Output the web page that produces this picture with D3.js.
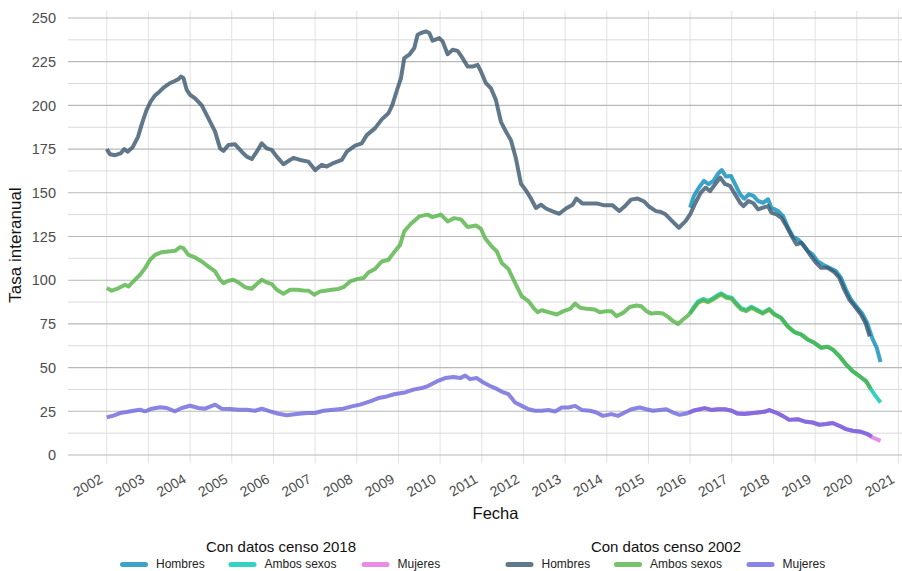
<!DOCTYPE html>
<html><head><meta charset="utf-8">
<script src="https://cdn.jsdelivr.net/npm/d3@7"></script>
<style>
body{margin:0;background:#fff}
svg{display:block;font-family:"Liberation Sans",Arial,Helvetica,sans-serif}
</style>
</head><body>
<svg id="chart" width="902" height="571"></svg>
<script>
// ---- tick labels ----
const yearTicks = [2002,2003,2004,2005,2006,2007,2008,2009,2010,2011,2012,2013,2014,2015,2016,2017,2018,2019,2020,2021];
const yTicks = [0,25,50,75,100,125,150,175,200,225,250];
const yMinorTicks = [12.5,37.5,62.5,87.5,112.5,137.5,162.5,187.5,212.5,237.5];

// ---- series values: [year, tasa] ----
const hombres2002 = [
[2002.00,175],[2002.08,172],[2002.20,171.5],[2002.33,172.5],[2002.42,175],[2002.50,173.5],[2002.62,176],
[2002.75,182],[2002.85,190],[2002.95,197],[2003.05,202],[2003.15,205.5],[2003.27,208],[2003.38,210.5],
[2003.50,212.5],[2003.62,213.8],[2003.72,215],[2003.78,216.5],[2003.84,215.7],[2003.92,208.8],[2004.00,206],
[2004.12,204],[2004.28,200],[2004.44,192.6],[2004.60,185],[2004.72,175.4],[2004.80,174],[2004.92,177.3],
[2005.08,177.7],[2005.24,173.5],[2005.36,170.7],[2005.48,169.3],[2005.60,173.5],[2005.72,178.3],[2005.84,175.4],
[2005.96,174.5],[2006.08,170.7],[2006.24,166.3],[2006.36,168.2],[2006.48,170],[2006.64,168.8],[2006.84,167.8],
[2007.00,163],[2007.16,166],[2007.28,165],[2007.44,167],[2007.64,168.8],[2007.76,173.5],[2007.96,177],
[2008.12,178.3],[2008.24,183],[2008.44,187],[2008.60,192],[2008.76,195.5],[2008.85,200],[2008.98,209.8],
[2009.06,215.5],[2009.14,227],[2009.26,229],[2009.38,232.8],[2009.46,240.4],[2009.54,241.4],[2009.66,242.3],
[2009.74,241.4],[2009.82,237],[2009.98,238.5],[2010.06,236.6],[2010.18,229.3],[2010.30,231.8],[2010.42,231.2],
[2010.54,227],[2010.66,222.2],[2010.78,222.2],[2010.90,223.2],[2010.98,219.4],[2011.10,212.7],[2011.22,209.8],
[2011.34,203],[2011.46,190.6],[2011.58,185],[2011.70,180],[2011.82,169.6],[2011.94,155.2],[2012.06,151.4],
[2012.18,146.7],[2012.30,141.3],[2012.42,143.2],[2012.54,141],[2012.70,139.4],[2012.86,138],[2013.02,141],
[2013.18,143.2],[2013.27,146.7],[2013.42,143.8],[2013.66,143.8],[2013.78,143.8],[2013.94,142.8],[2014.14,142.8],
[2014.30,139.6],[2014.42,142],[2014.58,146.1],[2014.74,146.7],[2014.90,145],[2015.02,142],[2015.18,139.5],
[2015.30,139],[2015.41,137.7],[2015.57,133.8],[2015.73,130],[2015.89,133.8],[2016.00,137.7],[2016.13,144.3],
[2016.25,150],[2016.37,152.9],[2016.48,151],[2016.60,154.9],[2016.72,158.7],[2016.84,154.9],[2016.96,153.9],
[2017.08,149.1],[2017.20,144.3],[2017.28,142.4],[2017.40,145.3],[2017.52,144],[2017.63,140.5],[2017.75,141.5],
[2017.87,142.4],[2017.95,138.6],[2018.07,137.7],[2018.19,135.7],[2018.31,131],[2018.43,125.6],[2018.55,120.5],
[2018.67,121.4],[2018.79,117.6],[2018.90,113.8],[2019.02,110],[2019.14,107.1],[2019.30,107.1],[2019.46,104.6],
[2019.58,101.4],[2019.70,94.6],[2019.82,88.9],[2019.98,84.1],[2020.10,80.3],[2020.21,75.5],[2020.31,67.9]
];
const ambos2002 = [
[2002.00,95.5],[2002.12,94],[2002.24,95],[2002.36,96.4],[2002.44,97.4],[2002.52,96.4],[2002.64,99.3],
[2002.80,103.1],[2002.92,106.9],[2003.04,111.7],[2003.16,114.5],[2003.32,116],[2003.48,116.4],[2003.64,116.8],
[2003.76,118.9],[2003.84,118.3],[2003.96,114.5],[2004.12,113],[2004.28,110.7],[2004.44,107.8],[2004.60,105],
[2004.72,100.2],[2004.80,98.3],[2004.92,99.7],[2005.04,100.2],[2005.16,98.7],[2005.32,96],[2005.48,95.1],
[2005.60,97.8],[2005.72,100.2],[2005.84,98.7],[2005.96,97.8],[2006.08,94.5],[2006.24,92.2],[2006.40,94.5],
[2006.56,94.5],[2006.72,94.1],[2006.84,94],[2006.98,91.7],[2007.12,93.6],[2007.24,94],[2007.40,94.5],
[2007.56,95],[2007.68,96],[2007.84,99.3],[2008.00,100.6],[2008.16,101.2],[2008.28,104.4],[2008.44,106.5],
[2008.60,110.7],[2008.76,111.7],[2008.88,115.5],[2009.04,120.2],[2009.14,128],[2009.30,132.3],[2009.50,136.5],
[2009.70,137.5],[2009.82,136.1],[2010.02,137.5],[2010.18,133.6],[2010.34,135.5],[2010.50,134.8],[2010.66,130.4],
[2010.86,131.3],[2010.98,129.4],[2011.08,124],[2011.24,119.3],[2011.36,116.5],[2011.48,109.8],[2011.64,106.4],
[2011.80,98.4],[2011.96,90.8],[2012.12,88],[2012.24,84.2],[2012.34,81.7],[2012.44,82.8],[2012.60,81.7],
[2012.80,80.4],[2012.96,82.3],[2013.12,83.6],[2013.24,86.6],[2013.36,84.2],[2013.52,83.6],[2013.71,83.2],
[2013.83,81.7],[2014.00,82.3],[2014.11,82.3],[2014.23,79.4],[2014.39,81.3],[2014.55,84.7],[2014.71,85.5],
[2014.83,85.1],[2014.95,82.3],[2015.07,80.9],[2015.23,81.3],[2015.35,80.9],[2015.47,79],[2015.59,76.6],
[2015.71,75],[2015.83,77.5],[2015.95,79.8],[2016.07,83.2],[2016.19,87],[2016.31,88.5],[2016.43,87.4],
[2016.55,88.9],[2016.67,90.8],[2016.75,91.8],[2016.87,89.9],[2017.00,89.3],[2017.11,86.1],[2017.23,83.2],
[2017.35,82.3],[2017.47,84.2],[2017.63,82.3],[2017.74,80.9],[2017.90,83.2],[2018.02,80.4],[2018.18,78.5],
[2018.34,73.7],[2018.50,70.3],[2018.66,69],[2018.82,66.1],[2018.98,64.2],[2019.14,61.4],[2019.30,61.9],
[2019.42,60.4],[2019.58,56.6],[2019.74,51.9],[2019.90,48],[2020.06,45.2],[2020.22,42.3],[2020.33,38]
];
const mujeres2002 = [
[2002.00,21.5],[2002.16,22.5],[2002.32,24],[2002.48,24.6],[2002.64,25.3],[2002.80,25.9],[2002.92,25],
[2003.08,26.5],[2003.28,27.3],[2003.44,26.9],[2003.64,25],[2003.80,26.9],[2004.00,28.2],[2004.20,26.9],
[2004.36,26.5],[2004.60,28.8],[2004.76,26.5],[2004.96,26.3],[2005.16,25.9],[2005.36,25.9],[2005.56,25.3],
[2005.72,26.5],[2005.92,25],[2006.12,23.6],[2006.32,22.7],[2006.56,23.4],[2006.80,24],[2007.00,24],
[2007.20,25.3],[2007.44,25.9],[2007.68,26.5],[2007.88,27.8],[2008.08,28.8],[2008.32,30.7],[2008.52,32.6],
[2008.72,33.5],[2008.92,34.9],[2009.16,35.8],[2009.36,37.4],[2009.56,38.3],[2009.72,39.6],[2009.92,42.1],
[2010.12,44],[2010.32,44.6],[2010.48,44],[2010.60,45.4],[2010.72,43.4],[2010.88,44],[2011.04,41.5],
[2011.20,39.5],[2011.36,37.8],[2011.52,35.8],[2011.64,34.8],[2011.80,30],[2011.96,28.1],[2012.12,26.2],
[2012.28,25.3],[2012.44,25.3],[2012.60,25.7],[2012.76,24.9],[2012.92,27.2],[2013.08,27.2],[2013.24,28.1],
[2013.40,25.8],[2013.60,25.3],[2013.75,24.3],[2013.91,22.4],[2014.11,23.4],[2014.27,22.4],[2014.43,24.3],
[2014.59,26.2],[2014.79,27.2],[2014.95,26.2],[2015.11,25.3],[2015.27,25.8],[2015.43,26.2],[2015.59,24.3],
[2015.75,23],[2015.91,23.7],[2016.07,25.3],[2016.23,26.2],[2016.35,26.8],[2016.51,25.8],[2016.67,26.2],
[2016.83,26.2],[2017.00,25.3],[2017.14,23.7],[2017.30,23.4],[2017.46,23.9],[2017.63,24.3],[2017.78,24.7],
[2017.90,25.7],[2018.06,24.3],[2018.22,22.4],[2018.38,20.1],[2018.58,20.5],[2018.78,19],[2018.94,18.6],
[2019.10,17.3],[2019.26,17.7],[2019.42,18.3],[2019.58,16.7],[2019.74,14.8],[2019.90,13.9],[2020.10,13.3],
[2020.26,11.9],[2020.36,10.6]
];
const hombres2018 = [
[2016.00,141.5],[2016.09,148.2],[2016.21,152.9],[2016.33,156.8],[2016.44,154.9],[2016.56,156.8],[2016.68,161.2],
[2016.76,163],[2016.86,159.3],[2016.98,159.6],[2017.10,153.9],[2017.20,149.1],[2017.30,146.6],[2017.41,149.1],
[2017.52,148.2],[2017.63,145.3],[2017.75,144.3],[2017.87,146.3],[2017.95,141.5],[2018.11,139.6],[2018.23,136.7],
[2018.35,130],[2018.47,124.8],[2018.59,123.3],[2018.71,120.5],[2018.83,116.6],[2018.94,114.7],[2019.06,110.9],
[2019.18,109],[2019.34,107.1],[2019.50,105.2],[2019.62,101.4],[2019.74,94.6],[2019.86,88.9],[2020.02,84.1],
[2020.13,80.9],[2020.25,75.5],[2020.37,66.9],[2020.48,61.2],[2020.57,53.2]
];
const ambos2018 = [
[2016.00,81],[2016.07,84],[2016.19,87.8],[2016.31,89.3],[2016.43,88.2],[2016.55,89.7],[2016.67,91.6],
[2016.75,92.5],[2016.87,90.6],[2017.00,90],[2017.11,86.8],[2017.23,83.9],[2017.35,83],[2017.47,84.8],
[2017.63,82.8],[2017.74,81.3],[2017.90,83.5],[2018.02,80.6],[2018.18,78.5],[2018.34,73.7],[2018.50,70.3],
[2018.66,69],[2018.82,66.1],[2018.98,64.2],[2019.14,61.4],[2019.30,61.9],[2019.42,60.4],[2019.58,56.6],
[2019.74,51.9],[2019.90,48],[2020.06,45.2],[2020.22,42.3],[2020.33,38],[2020.45,33.8],[2020.57,30]
];
const mujeres2018 = [
[2015.97,24],[2016.07,25.3],[2016.23,26.2],[2016.35,26.8],[2016.51,25.8],[2016.67,26.2],[2016.83,26.2],
[2017.00,25.3],[2017.14,23.7],[2017.30,23.4],[2017.46,23.9],[2017.63,24.3],[2017.78,24.7],[2017.90,25.7],
[2018.06,24.3],[2018.22,22.4],[2018.38,20.1],[2018.58,20.5],[2018.78,19],[2018.94,18.6],[2019.10,17.3],
[2019.26,17.7],[2019.42,18.3],[2019.58,16.7],[2019.74,14.8],[2019.90,13.9],[2020.10,13.3],[2020.26,11.9],
[2020.38,10],[2020.57,8.1]
];

// ---- legend labels ----
const legendGroups = ["Con datos censo 2018", "Con datos censo 2002"];
const sexLabels = ["Hombres", "Ambos sexos", "Mujeres"];

// ---- styling ----
const colors2018 = ["#098cb9", "#00c8b0", "#e16fe3"];
const colors2002 = ["#3a566e", "#54b346", "#6d65dc"];
const lineAlpha = 0.8;

const series = [
  {data: hombres2018, color: colors2018[0]},
  {data: ambos2018,   color: colors2018[1]},
  {data: mujeres2018, color: colors2018[2]},
  {data: hombres2002, color: colors2002[0]},
  {data: ambos2002,   color: colors2002[1]},
  {data: mujeres2002, color: colors2002[2]}
];

const svg = d3.select("#chart");
const W = 902;
const x = d3.scaleLinear().domain([2001.07, 2021.5]).range([68, 919.3]);
const y = d3.scaleLinear().domain([-4.8, 254.1]).range([463.4, 10.8]);
const [pTop, pBot] = [y(254.1), y(-4.8)];

const grid = svg.append("g");
grid.selectAll("line.vx").data(yearTicks).join("line")
  .attr("x1", d => x(d)).attr("x2", d => x(d)).attr("y1", pTop).attr("y2", pBot)
  .attr("stroke", "#e2e2e2").attr("stroke-width", 1);
grid.selectAll("line.hm").data(yMinorTicks).join("line")
  .attr("x1", 68).attr("x2", W).attr("y1", d => y(d)).attr("y2", d => y(d))
  .attr("stroke", "#dadada").attr("stroke-width", 1);
grid.selectAll("line.hM").data(yTicks).join("line")
  .attr("x1", 68).attr("x2", W).attr("y1", d => y(d)).attr("y2", d => y(d))
  .attr("stroke", "#b8b8b8").attr("stroke-width", 1.1);

// y axis labels
svg.append("g").selectAll("text").data(yTicks).join("text")
  .attr("x", 56).attr("y", d => y(d)).attr("dy", "0.36em")
  .attr("text-anchor", "end").attr("font-size", 14.5).attr("fill", "#4d4d4d")
  .text(d => d);

// x axis labels
svg.append("g").selectAll("text").data(yearTicks).join("text")
  .attr("transform", d => `translate(${x(d) - 8},473) rotate(-30)`)
  .attr("dy", "0.72em").attr("text-anchor", "end")
  .attr("font-size", 14).attr("fill", "#4d4d4d")
  .text(d => d);

// axis titles
svg.append("text").attr("x", 495.5).attr("y", 519).attr("text-anchor", "middle")
  .attr("font-size", 16.5).attr("fill", "#111").text("Fecha");
svg.append("text").attr("transform", "translate(21,245) rotate(-90)").attr("text-anchor", "middle")
  .attr("font-size", 17).attr("fill", "#111").text("Tasa interanual");

// lines
const line = d3.line().x(d => x(d[0])).y(d => y(d[1]));
svg.append("g").selectAll("path").data(series).join("path")
  .attr("d", d => line(d.data))
  .attr("fill", "none").attr("stroke", d => d.color)
  .attr("stroke-opacity", lineAlpha).attr("stroke-width", 4)
  .attr("stroke-linejoin", "round").attr("stroke-linecap", "butt");

// legend
const legendLayout = [
  {title: legendGroups[0], cx: 281, keys: [120, 228.5, 361.5], colors: colors2018},
  {title: legendGroups[1], cx: 666, keys: [505.5, 614, 746.5], colors: colors2002}
];
const lg = svg.append("g");
legendLayout.forEach(g => {
  lg.append("text").attr("x", g.cx).attr("y", 551.5).attr("text-anchor", "middle")
    .attr("font-size", 15).attr("fill", "#111").text(g.title);
  g.keys.forEach((kx, i) => {
    lg.append("line").attr("x1", kx + 2.5).attr("x2", kx + 25.5).attr("y1", 564.5).attr("y2", 564.5)
      .attr("stroke", g.colors[i]).attr("stroke-opacity", lineAlpha)
      .attr("stroke-width", 5).attr("stroke-linecap", "round");
    lg.append("text").attr("x", kx + 36).attr("y", 568.3)
      .attr("font-size", 12).attr("fill", "#222").text(sexLabels[i]);
  });
});
</script>
</body></html>
